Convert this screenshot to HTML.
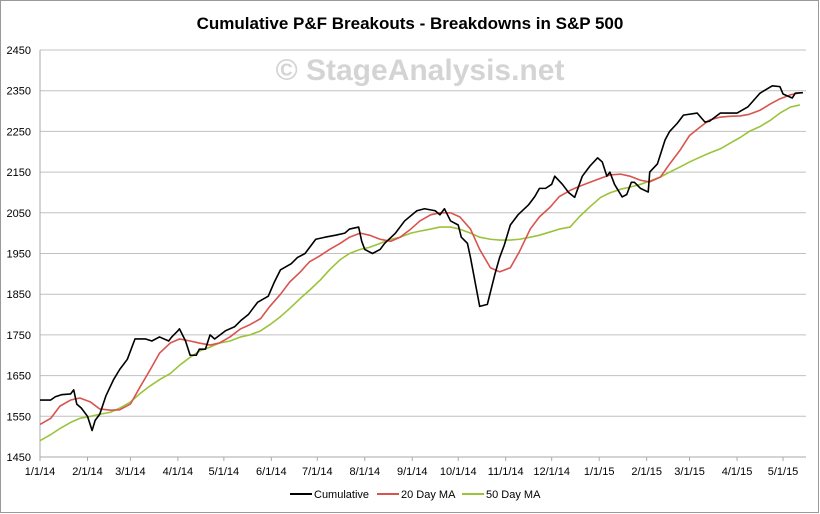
<!DOCTYPE html>
<html><head><meta charset="utf-8"><style>
body{margin:0;background:#fff}
svg{display:block;font-family:"Liberation Sans",sans-serif}
</style></head><body>
<svg id="chart" width="820" height="514" viewBox="0 0 820 514">
<rect x="0.5" y="0.5" width="818" height="512" fill="#fff" stroke="#999"/>
<text x="410" y="29" text-anchor="middle" font-size="17" font-weight="bold" fill="#000">Cumulative P&amp;F Breakouts - Breakdowns in S&amp;P 500</text>
<text x="420" y="80" text-anchor="middle" font-size="30" font-weight="bold" fill="#d4d4d4">© StageAnalysis.net</text>
<g id="grid"></g><g id="axes"></g><g id="series"></g>
<g font-size="11" fill="#000">
<line x1="290" y1="494" x2="312" y2="494" stroke="#000" stroke-width="2"/><text x="314" y="498">Cumulative</text>
<line x1="377" y1="494" x2="399" y2="494" stroke="#d9534f" stroke-width="2"/><text x="401" y="498">20 Day MA</text>
<line x1="462" y1="494" x2="484" y2="494" stroke="#9bc33a" stroke-width="2"/><text x="486" y="498">50 Day MA</text>
</g>
</svg>
<script>
const yTicks=[1450,1550,1650,1750,1850,1950,2050,2150,2250,2350,2450];
const xTickLabels=["1/1/14","2/1/14","3/1/14","4/1/14","5/1/14","6/1/14","7/1/14","8/1/14","9/1/14","10/1/14","11/1/14","12/1/14","1/1/15","2/1/15","3/1/15","4/1/15","5/1/15"];
const xTickDays=[0,31,59,90,120,151,181,212,243,273,304,334,365,396,424,455,485];
const cumDays=[0,7,10,14,20,22,24,27,31,34,36,39,43,48,52,57,62,69,73,78,84,86,90,91,95,98,102,104,108,111,114,121,127,131,136,142,149,153,157,164,168,173,180,186,193,199,202,208,210,212,217,222,225,232,238,246,251,258,261,264,268,273,275,279,281,284,287,292,297,300,303,307,312,319,323,326,330,334,336,341,345,349,354,359,364,367,370,372,375,380,383,386,388,392,397,398,403,408,411,416,420,429,434,437,444,455,462,470,478,483,485,491,493,498];
const cumValues=[1590,1590,1598,1603,1605,1615,1580,1570,1550,1515,1540,1555,1600,1640,1665,1690,1740,1740,1735,1745,1735,1745,1760,1765,1735,1700,1700,1715,1715,1750,1740,1760,1770,1785,1800,1830,1845,1880,1910,1925,1940,1950,1985,1990,1995,2000,2010,2015,1980,1960,1950,1960,1975,2000,2030,2055,2060,2055,2045,2060,2030,2020,1990,1975,1940,1880,1820,1825,1900,1940,1970,2020,2045,2070,2090,2110,2110,2120,2140,2120,2100,2088,2140,2165,2185,2175,2140,2150,2120,2089,2095,2125,2125,2110,2101,2150,2170,2229,2250,2270,2290,2295,2273,2275,2295,2295,2310,2344,2362,2360,2342,2332,2344,2345];
const maDays=[0,7,13,20,26,33,39,46,52,59,65,72,78,85,91,98,104,111,117,124,131,137,144,150,157,163,170,176,183,189,196,202,209,215,222,229,235,242,248,255,261,268,274,281,287,294,300,307,313,320,326,333,339,346,352,359,366,372,379,385,392,398,405,411,418,424,431,437,444,450,457,463,470,477,483,490,496];
const ma20Values=[1530,1545,1575,1590,1595,1585,1568,1565,1566,1580,1620,1665,1705,1730,1740,1735,1730,1725,1730,1745,1765,1775,1790,1820,1850,1880,1905,1930,1945,1960,1975,1990,2000,1995,1985,1980,1990,2010,2030,2045,2050,2050,2040,2010,1960,1915,1905,1915,1955,2010,2040,2064,2090,2105,2115,2125,2135,2143,2145,2140,2130,2126,2138,2170,2205,2240,2261,2278,2285,2287,2288,2292,2302,2318,2330,2340,2345];
const ma50Values=[1490,1505,1520,1535,1545,1550,1555,1560,1570,1585,1605,1625,1640,1655,1675,1695,1710,1720,1730,1735,1745,1750,1760,1775,1795,1815,1840,1860,1885,1910,1935,1950,1960,1965,1975,1985,1990,2000,2005,2010,2015,2015,2010,2000,1990,1985,1983,1983,1985,1990,1995,2003,2010,2015,2040,2065,2088,2099,2108,2113,2120,2128,2138,2150,2163,2175,2187,2197,2207,2220,2235,2250,2262,2278,2295,2310,2315];

const NS="http://www.w3.org/2000/svg";
const X0=40,X1=806,DMAX=500,Y0=457,Y1=50,VMIN=1450,VMAX=2450;
function xs(d){return X0+(X1-X0)*d/DMAX;}
function ys(v){return Y0-(Y0-Y1)*(v-VMIN)/(VMAX-VMIN);}
function mk(tag,attrs,parent){const e=document.createElementNS(NS,tag);for(const k in attrs)e.setAttribute(k,attrs[k]);parent.appendChild(e);return e;}
const grid=document.getElementById('grid'),axes=document.getElementById('axes'),series=document.getElementById('series');
yTicks.forEach(v=>{
  if(v>VMIN){const g=mk('line',{x1:X0,x2:X1,y1:ys(v),y2:ys(v),stroke:'#c0c0c0','stroke-width':1},grid);
  
  }
  const t=mk('text',{x:31,y:ys(v)+4,'text-anchor':'end','font-size':11,fill:'#000'},axes);
  t.textContent=v;
  
  
});
const ya=mk('line',{x1:X0,x2:X0,y1:Y1,y2:Y0,stroke:'#aaa'},axes);


const xa=mk('line',{x1:X0,x2:X1,y1:Y0,y2:Y0,stroke:'#aaa'},axes);


xTickLabels.forEach((lab,i)=>{
  const x=xs(xTickDays[i]);
  mk('line',{x1:x,x2:x,y1:Y0,y2:Y0+4,stroke:'#aaa'},axes);
  const t=mk('text',{x:x,y:475,'text-anchor':'middle','font-size':11,fill:'#000'},axes);
  t.textContent=lab;
  
  
});
function line(days,vals,color,name){
  const p=mk('polyline',{points:days.map((d,i)=>xs(d)+','+ys(vals[i])).join(' '),fill:'none',stroke:color,'stroke-width':1.6,'stroke-linejoin':'round'},series);
  
  
}
line(maDays,ma50Values,'#9bc33a','series-50-day-ma');
line(maDays,ma20Values,'#d9534f','series-20-day-ma');
line(cumDays,cumValues,'#000','series-cumulative');
</script>
</body></html>
